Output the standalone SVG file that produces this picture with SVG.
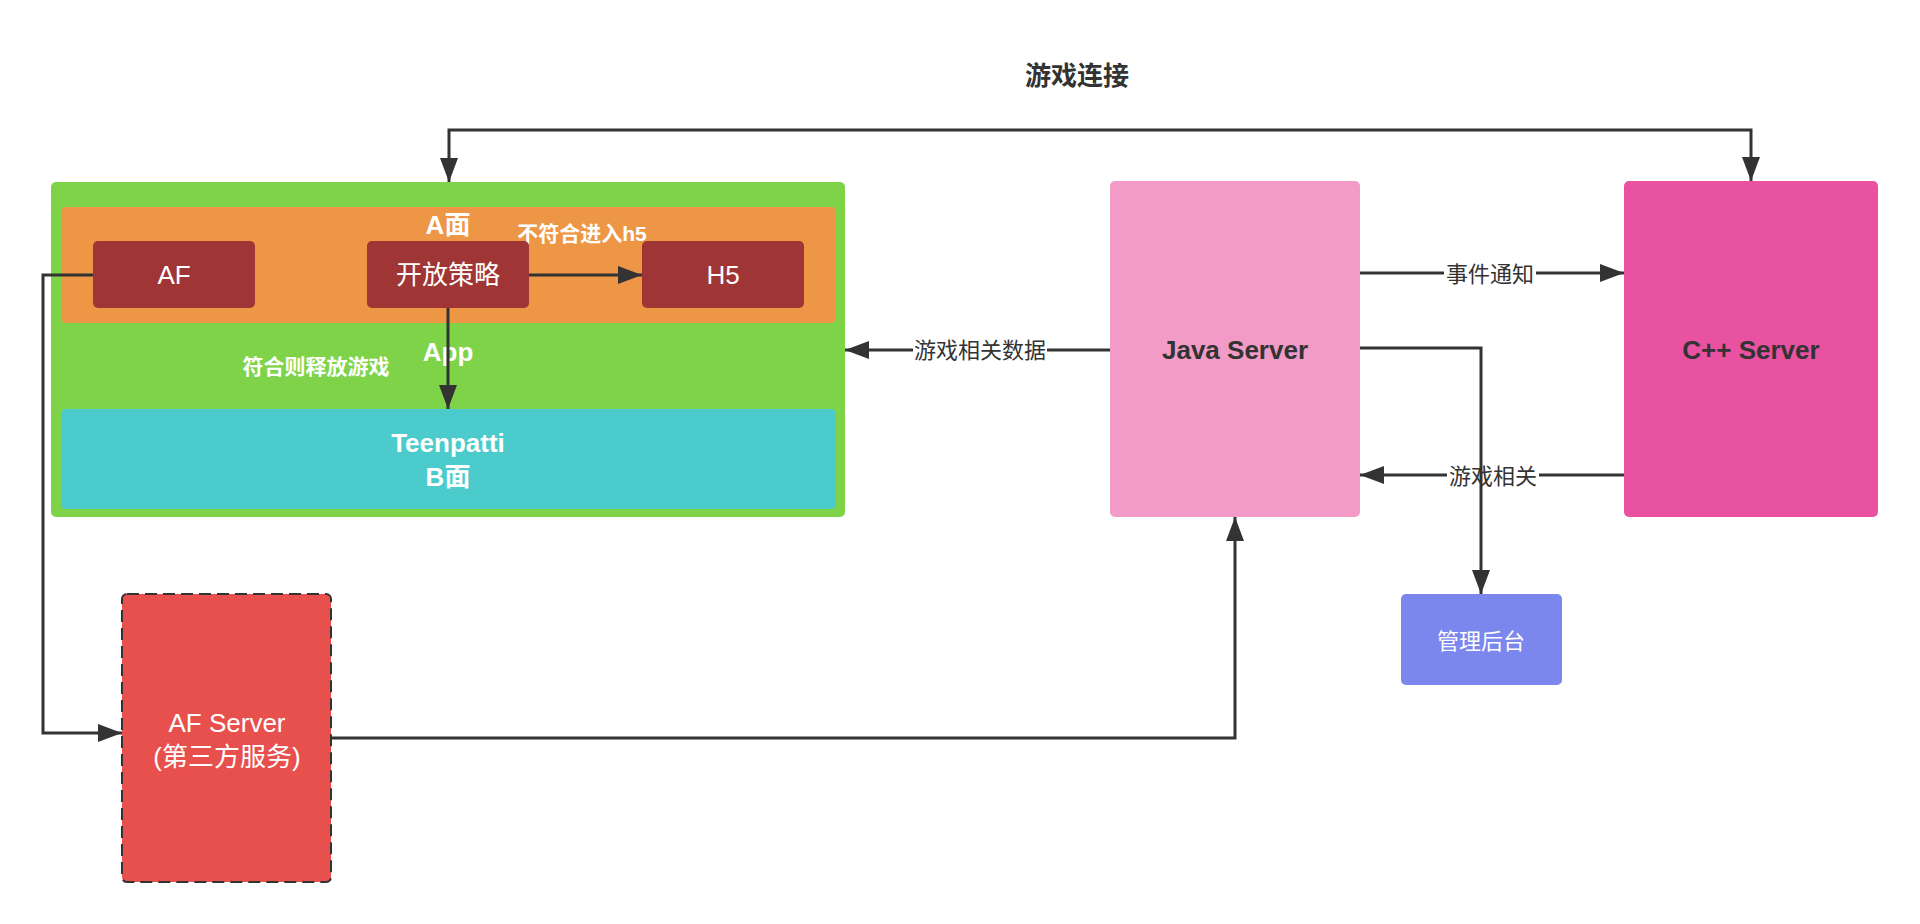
<svg xmlns="http://www.w3.org/2000/svg" width="1920" height="924" viewBox="0 0 1920 924">
<style>
text{font-family:"Liberation Sans","Noto Sans CJK SC",sans-serif;text-anchor:middle}
.w{fill:#ffffff}
.d{fill:#333333}
.b{font-weight:bold}
.n26{font-size:26px}
.n21{font-size:21px}
.n22{font-size:22px}
.edge{fill:none;stroke:#333333;stroke-width:3}
</style>
<defs>
<marker id="arr" markerUnits="userSpaceOnUse" markerWidth="24" markerHeight="18" refX="24" refY="9" orient="auto-start-reverse" viewBox="0 0 24 18">
<path d="M0,0 L24,9 L0,18 Z" fill="#333333"/>
</marker>
</defs>
<rect width="1920" height="924" fill="#ffffff"/>
<text class="d b n26" x="1077" y="85">游戏连接</text>
<g id="app">
<rect x="51" y="182" width="794" height="335" rx="5" fill="#7ED348"/>
<text class="w b n26" x="448" y="361">App</text>
<text class="w b n21" x="316" y="374">符合则释放游戏</text>
</g>
<g id="a-face">
<rect x="61" y="207" width="775" height="116" rx="5" fill="#ED9746"/>
<text class="w b n26" x="448" y="234">A面</text>
<text class="w b n21" x="582" y="241">不符合进入h5</text>
</g>
<g id="af">
<rect x="93" y="241" width="162" height="67" rx="5" fill="#A03535"/>
<text class="w n26" x="174" y="284">AF</text>
</g>
<g id="strategy">
<rect x="367" y="241" width="162" height="67" rx="5" fill="#A03535"/>
<text class="w n26" x="448" y="284">开放策略</text>
</g>
<g id="h5">
<rect x="642" y="241" width="162" height="67" rx="5" fill="#A03535"/>
<text class="w n26" x="723" y="284">H5</text>
</g>
<g id="teenpatti">
<rect x="61" y="409" width="775" height="100" rx="5" fill="#4BCBCC"/>
<text class="w b n26" x="448" y="452">Teenpatti</text>
<text class="w b n26" x="448" y="486">B面</text>
</g>
<g id="java-server">
<rect x="1110" y="181" width="250" height="336" rx="5" fill="#F19BC6"/>
<text class="d b n26" x="1235" y="359">Java Server</text>
</g>
<g id="cpp-server">
<rect x="1624" y="181" width="254" height="336" rx="5" fill="#E852A1"/>
<text class="d b n26" x="1751" y="359">C++ Server</text>
</g>
<g id="admin">
<rect x="1401" y="594" width="161" height="91" rx="5" fill="#7B87EC"/>
<text class="w n22" x="1481" y="649">管理后台</text>
</g>
<g id="af-server">
<rect x="122" y="594" width="209" height="288" rx="5" fill="#E8504E" stroke="#333333" stroke-width="2" stroke-dasharray="12 6"/>
<text class="w n26" x="227" y="732">AF Server</text>
<text class="w n26" x="227" y="766">(第三方服务)</text>
</g>
<g id="connectors">
<path class="edge" d="M449,182 L449,130 L1751,130 L1751,181" marker-start="url(#arr)" marker-end="url(#arr)"/>
<path class="edge" d="M93,275 L43,275 L43,733 L122,733" marker-end="url(#arr)"/>
<path class="edge" d="M331,738 L1235,738 L1235,517" marker-end="url(#arr)"/>
<path class="edge" d="M529,275 L642,275" marker-end="url(#arr)"/>
<path class="edge" d="M448,308 L448,409" marker-end="url(#arr)"/>
<path class="edge" d="M1360,273 L1624,273" marker-end="url(#arr)"/>
<rect x="1444" y="261" width="92" height="26" fill="#ffffff"/>
<text class="d n22" x="1490" y="282">事件通知</text>
<path class="edge" d="M1110,350 L845,350" marker-end="url(#arr)"/>
<rect x="913" y="338" width="134" height="26" fill="#ffffff"/>
<text class="d n22" x="980" y="358">游戏相关数据</text>
<path class="edge" d="M1624,475 L1360,475" marker-end="url(#arr)"/>
<rect x="1447" y="463" width="92" height="26" fill="#ffffff"/>
<text class="d n22" x="1493" y="484">游戏相关</text>
<path class="edge" d="M1360,348 L1481,348 L1481,594" marker-end="url(#arr)"/>
</g>
</svg>
